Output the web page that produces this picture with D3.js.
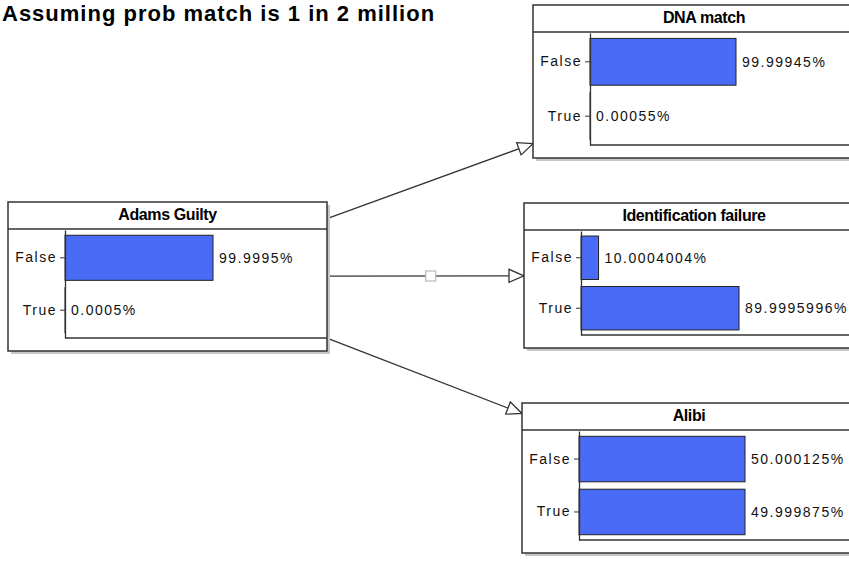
<!DOCTYPE html>
<html>
<head>
<meta charset="utf-8">
<script src="https://cdn.jsdelivr.net/npm/d3@7"></script>
<style>
body{margin:0;background:#fff;}
text{font-family:"Liberation Sans",Arial,sans-serif;}
</style>
</head>
<body>
<div class="container"></div>
<script>
var chartTitle = "Assuming prob match is 1 in 2 million";
var nodeNames = ["Adams Guilty","DNA match","Identification failure","Alibi"];
var states = ["False","True"];
var adamsValues = [99.9995, 0.0005];
var dnaValues = [99.99945, 0.00055];
var identValues = [10.0004004, 89.9995996];
var alibiValues = [50.000125, 49.999875];
var nodeValues = [adamsValues, dnaValues, identValues, alibiValues];
var links = [[0,1],[0,2],[0,3]];

// where each node box sits on the canvas (barMax = px for the largest bar)
var boxes = [
  {x:8,   y:202, w:319, h:149, barMax:148},
  {x:533, y:5,   w:342, h:153, barMax:146},
  {x:524, y:203, w:340, h:145, barMax:158},
  {x:522, y:403, w:334, h:150, barMax:166}
];

const TITLE_H = 27;
const AXIS_LEFT = 57;
const BOTTOM_GAP = 13;
const BAR_COLOR = "#4a6bf5";
const LINE_COLOR = "#333";

var svg = d3.select('.container').append('svg').attr("width",849).attr("height",563);

svg.append('text')
  .attr("x",2).attr("y",20.5)
  .attr("font-size",22).attr("font-weight","bold")
  .attr("letter-spacing",1)
  .attr("fill","#000")
  .text(chartTitle);

var center = function(b){ return [b.x + b.w/2, b.y + b.h/2]; };

// point where the line from the box centre towards (tx,ty) leaves the box
var borderPoint = function(b, tx, ty){
  var c = center(b);
  var dx = tx - c[0], dy = ty - c[1];
  var t = Math.min(dx ? (b.w/2)/Math.abs(dx) : Infinity, dy ? (b.h/2)/Math.abs(dy) : Infinity);
  return [c[0] + dx*t, c[1] + dy*t];
};

var drawLink = function(link){
  var a = boxes[link[0]], b = boxes[link[1]];
  var ca = center(a), cb = center(b);
  var p1 = borderPoint(a, cb[0], cb[1]);
  var p2 = borderPoint(b, ca[0], ca[1]);
  var angle = Math.atan2(p2[1]-p1[1], p2[0]-p1[0]) * 180 / Math.PI;
  svg.append('line')
    .attr("x1",p1[0]).attr("y1",p1[1])
    .attr("x2",p2[0]).attr("y2",p2[1])
    .attr("stroke",LINE_COLOR).attr("stroke-width",1.3);
  svg.append('polygon')
    .attr("points",[[0,0],[-15,-6.5],[-15,6.5]].join(" "))
    .attr("fill","#fff").attr("stroke",LINE_COLOR).attr("stroke-width",1.3)
    .attr("transform","translate("+p2[0]+","+p2[1]+") rotate("+angle+")");
  if (Math.abs(angle) < 1) {
    // handle square on the selected link
    var mx = (ca[0]+cb[0])/2, my = (ca[1]+cb[1])/2;
    svg.append('rect')
      .attr("x",mx-5).attr("y",my-5).attr("width",10).attr("height",10)
      .attr("fill","#fff").attr("stroke","#bbb").attr("stroke-width",1.2);
  }
};

links.forEach(drawLink);

var drawNode = function(name, index){
  var b = boxes[index];
  var values = nodeValues[index];
  var g = svg.append('g').attr("transform","translate("+b.x+","+b.y+")");

  g.append('rect').attr("x",3).attr("y",3).attr("width",b.w).attr("height",b.h)
    .attr("fill","#c6c6c6");
  g.append('rect').attr("x",0).attr("y",0).attr("width",b.w).attr("height",b.h)
    .attr("fill","#fff").attr("stroke",LINE_COLOR).attr("stroke-width",1.5);
  g.append('line').attr("x1",0).attr("x2",b.w).attr("y1",TITLE_H).attr("y2",TITLE_H)
    .attr("stroke",LINE_COLOR).attr("stroke-width",1.5);
  g.append('text')
    .attr("x",b.w/2).attr("y",18)
    .attr("text-anchor","middle")
    .attr("font-size",16).attr("font-weight","bold")
    .attr("letter-spacing",-0.4)
    .attr("fill","#000")
    .text(name);

  var top = TITLE_H + 1, bottom = b.h - BOTTOM_GAP;
  var y = d3.scaleBand().domain(states).range([top, bottom]).paddingInner(0.14).paddingOuter(0.1);
  var x = d3.scaleLinear().domain([0, d3.max(values)]).range([AXIS_LEFT, AXIS_LEFT + b.barMax]);

  g.selectAll('.bar').data(values).enter().append('rect')
    .attr("class","bar")
    .attr("x",AXIS_LEFT)
    .attr("y",function(d,i){ return y(states[i]); })
    .attr("width",function(d){ return x(d) - AXIS_LEFT; })
    .attr("height",y.bandwidth())
    .attr("fill",BAR_COLOR)
    .attr("stroke","#222").attr("stroke-width",1);

  g.selectAll('.val').data(values).enter().append('text')
    .attr("class","val")
    .attr("x",function(d){ return x(d) + 6; })
    .attr("y",function(d,i){ return y(states[i]) + y.bandwidth()/2; })
    .attr("dy","0.35em")
    .attr("font-size",14).attr("letter-spacing",1.5)
    .attr("fill","#111")
    .text(function(d){ return String(d) + "%"; });

  var axis = g.append('g')
    .attr("transform","translate("+AXIS_LEFT+",0)")
    .call(d3.axisLeft(y).tickSize(5).tickSizeOuter(0));
  axis.attr("font-size",14).attr("font-family",null);
  axis.selectAll('text').attr("fill","#111").attr("letter-spacing",1.5);
  axis.selectAll('line').attr("stroke",LINE_COLOR);
  axis.select('.domain').attr("stroke",LINE_COLOR).attr("stroke-width",1.3);

  g.append('line').attr("x1",AXIS_LEFT).attr("x2",b.w).attr("y1",bottom).attr("y2",bottom)
    .attr("stroke",LINE_COLOR).attr("stroke-width",1.3);
};

nodeNames.forEach(drawNode);
</script>
</body>
</html>
